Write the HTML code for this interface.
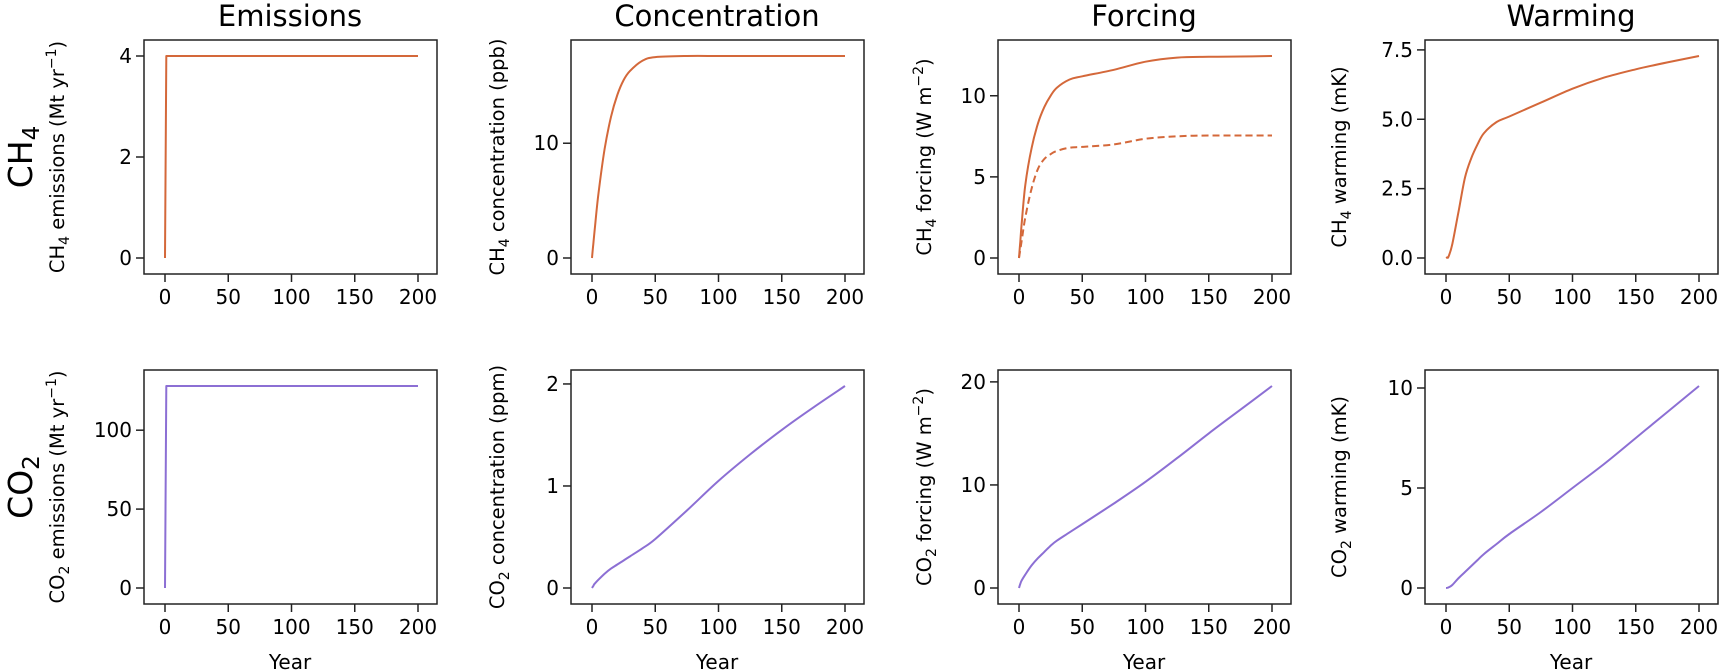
<!DOCTYPE html>
<html><head><meta charset="utf-8"><style>
body{margin:0;background:#fff}
svg{display:block;font-family:"DejaVu Sans","Liberation Sans",sans-serif}
</style></head><body>
<svg id="fig" width="1720" height="672" viewBox="0 0 1720 672"></svg>
<script>
const years = [0,1,2,5,10,15,20,25,30,40,50,75,100,125,150,175,200];
const ch4Emis = [0,4,4,4,4,4,4,4,4,4,4,4,4,4,4,4,4];
const ch4Conc = [0,1.2,2.3,5.5,9.5,12.3,14.2,15.5,16.3,17.2,17.5,17.6,17.6,17.6,17.6,17.6,17.6];
const ch4Forc = [0,1.0,2.0,4.5,6.8,8.3,9.3,10.0,10.5,11.0,11.2,11.6,12.1,12.35,12.4,12.42,12.45];
const ch4ForcEff = [0,0.5,1.0,2.5,4.3,5.5,6.1,6.4,6.6,6.8,6.85,7.0,7.35,7.5,7.55,7.55,7.55];
const ch4Warm = [0,0.02,0.05,0.5,1.7,2.9,3.6,4.1,4.5,4.9,5.1,5.6,6.1,6.5,6.8,7.05,7.28];
const co2Emis = [0,128,128,128,128,128,128,128,128,128,128,128,128,128,128,128,128];
const co2Conc = [0,0.02,0.04,0.08,0.14,0.19,0.23,0.27,0.31,0.39,0.48,0.76,1.05,1.31,1.55,1.77,1.98];
const co2Forc = [0,0.4,0.7,1.3,2.2,2.9,3.5,4.1,4.6,5.4,6.2,8.2,10.3,12.6,15.0,17.3,19.6];
const co2Warm = [0,0.01,0.03,0.15,0.5,0.8,1.1,1.4,1.7,2.2,2.7,3.8,5.0,6.2,7.5,8.8,10.1];
const xTicks = [0,50,100,150,200];
const colTitles = ["Emissions","Concentration","Forcing","Warming"];

const NS="http://www.w3.org/2000/svg";
const svg=document.getElementById('fig');
const OR="#d4683a", PU="#8c6fd4";
const lefts=[144,571,998,1425], tops=[40,370], W=293, H=234;
const ylOff=[86,73,73,85];
function el(t,a,p){const e=document.createElementNS(NS,t);for(const k in a)e.setAttribute(k,a[k]);(p||svg).appendChild(e);return e;}
function smoothPath(pts,step){
  if(step)return pts.map((p,j)=>(j?'L':'M')+p[0].toFixed(1)+','+p[1].toFixed(1)).join('');
  let d='M'+pts[0][0].toFixed(1)+','+pts[0][1].toFixed(1);
  for(let i=0;i<pts.length-1;i++){
    const p0=pts[Math.max(0,i-1)],p1=pts[i],p2=pts[i+1],p3=pts[Math.min(pts.length-1,i+2)];
    const c1=[p1[0]+(p2[0]-p0[0])/6,p1[1]+(p2[1]-p0[1])/6];
    const c2=[p2[0]-(p3[0]-p1[0])/6,p2[1]-(p3[1]-p1[1])/6];
    d+=`C${c1[0].toFixed(1)},${c1[1].toFixed(1)} ${c2[0].toFixed(1)},${c2[1].toFixed(1)} ${p2[0].toFixed(1)},${p2[1].toFixed(1)}`;
  }
  return d;
}
function ylabelText(g,x,y,gas,rest,sup){
  const t=el('text',{x:0,y:0,'font-size':19.5,'text-anchor':'middle',transform:`translate(${x},${y}) rotate(-90)`},g);
  
  
  let h=`${gas[0]}<tspan font-size="14" dy="5">${gas[1]}</tspan><tspan dy="-5">${rest}</tspan>`;
  if(sup)h+=`<tspan font-size="14" dy="-8">${sup}</tspan><tspan dy="8">)</tspan>`;
  t.innerHTML=h;
}
const panels=[
 {r:0,c:0,series:[ch4Emis],step:true,ticks:[0,2,4],fmt:v=>v,gas:["CH","4"],rest:" emissions (Mt yr",sup:"−1",col:OR,name:'ch4-emissions'},
 {r:0,c:1,series:[ch4Conc],ticks:[0,10],fmt:v=>v,gas:["CH","4"],rest:" concentration (ppb)",col:OR,name:'ch4-concentration'},
 {r:0,c:2,series:[ch4Forc,ch4ForcEff],ticks:[0,5,10],fmt:v=>v,gas:["CH","4"],rest:" forcing (W m",sup:"−2",col:OR,name:'ch4-forcing'},
 {r:0,c:3,series:[ch4Warm],ticks:[0,2.5,5,7.5],fmt:v=>v.toFixed(1),gas:["CH","4"],rest:" warming (mK)",col:OR,name:'ch4-warming'},
 {r:1,c:0,series:[co2Emis],step:true,ticks:[0,50,100],fmt:v=>v,gas:["CO","2"],rest:" emissions (Mt yr",sup:"−1",col:PU,name:'co2-emissions'},
 {r:1,c:1,series:[co2Conc],ticks:[0,1,2],fmt:v=>v,gas:["CO","2"],rest:" concentration (ppm)",col:PU,name:'co2-concentration'},
 {r:1,c:2,series:[co2Forc],ticks:[0,10,20],fmt:v=>v,gas:["CO","2"],rest:" forcing (W m",sup:"−2",col:PU,name:'co2-forcing'},
 {r:1,c:3,series:[co2Warm],ticks:[0,5,10],fmt:v=>v,gas:["CO","2"],rest:" warming (mK)",col:PU,name:'co2-warming'},
];
panels.forEach(p=>{
  const L=lefts[p.c],T=tops[p.r];
  const g=el('g',{});
  
  
  let mx=-Infinity,mn=Infinity;p.series.forEach(s=>s.forEach(v=>{mx=Math.max(mx,v);mn=Math.min(mn,v);}));
  const xs=v=>L+21+v/200*253;
  const ys=v=>T+H-16-(v-mn)/(mx-mn)*(H-32);
  p.series.forEach((s,i)=>{
    const pts=s.map((v,j)=>[xs(years[j]),ys(v)]);
    const path=el('path',{d:smoothPath(pts,p.step),fill:'none',stroke:p.col,'stroke-width':2,'stroke-linejoin':'round','stroke-dasharray':i?'7,4':'none'},g);
    
    
  });
  const frame=el('rect',{x:L,y:T,width:W,height:H,fill:'none',stroke:'#222','stroke-width':1.5},g);
  
  
  xTicks.forEach(v=>{
    const x=xs(v);
    el('line',{x1:x,x2:x,y1:T+H,y2:T+H+8,stroke:'#222','stroke-width':1.5},g);
    const t=el('text',{x,y:T+H+30,'font-size':20,'text-anchor':'middle'},g);
    
    
    t.textContent=v;
  });
  p.ticks.forEach(v=>{
    const y=ys(v);
    el('line',{x1:L-8,x2:L,y1:y,y2:y,stroke:'#222','stroke-width':1.5},g);
    const t=el('text',{x:L-12,y:y+7,'font-size':20,'text-anchor':'end'},g);
    
    
    t.textContent=p.fmt(v);
  });
  ylabelText(g,L-ylOff[p.c]+6,T+H/2,p.gas,p.rest,p.sup);
  if(p.r===1){
    const t=el('text',{x:L+146,y:669,'font-size':20,'text-anchor':'middle'},g);
    
    
    t.textContent='Year';
  }else{
    const t=el('text',{x:L+146,y:26,'font-size':29,'text-anchor':'middle'},g);
    
    
    t.textContent=colTitles[p.c];
  }
});
[["CH","4",157],["CO","2",487]].forEach(r=>{
  const t=el('text',{x:0,y:0,'font-size':33,'text-anchor':'middle',transform:`translate(32,${r[2]}) rotate(-90)`});
  
  
  t.innerHTML=`${r[0]}<tspan font-size="23" dy="7">${r[1]}</tspan>`;
});
</script>
</body></html>
